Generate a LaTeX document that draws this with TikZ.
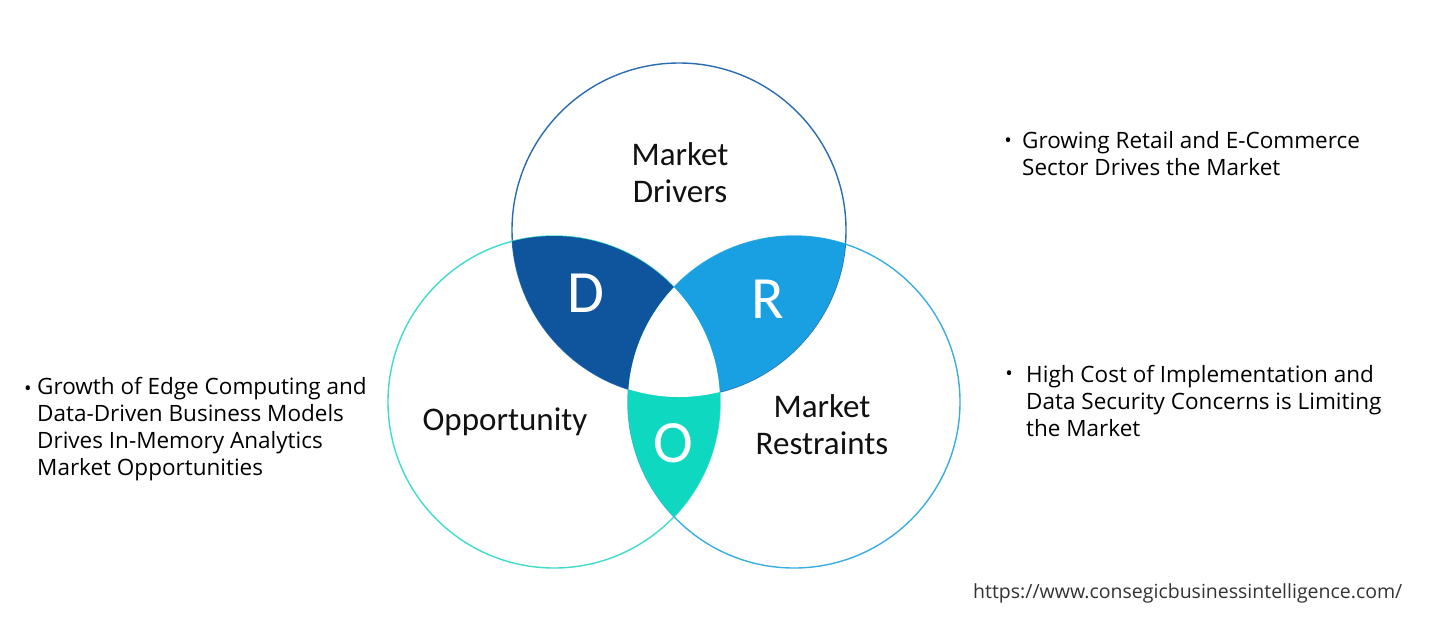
\documentclass[tikz,border=0pt]{standalone}
\usepackage{fontspec}
\setmainfont{Open Sans}
\newfontfamily\lblfont{Carlito}
\definecolor{dcol}{HTML}{0E559D}
\definecolor{rcol}{HTML}{18A0E2}
\definecolor{ocol}{HTML}{0FD8C1}
\definecolor{tstroke}{HTML}{2B6CB0}
\definecolor{lstroke}{HTML}{40DCCB}
\definecolor{rstroke}{HTML}{3AAEE2}
\definecolor{txt}{HTML}{111111}
\definecolor{urlc}{HTML}{333333}
\begin{document}
\begin{tikzpicture}[x=1pt,y=-1pt,
  ring/.style={circle, minimum size=#1, inner sep=0pt, line width=1.4pt},
  lbl/.style={font=\lblfont\fontsize{33}{37}\selectfont, text=txt, align=center, inner sep=0pt},
  big/.style={font=\lblfont\fontsize{60}{60}\selectfont, text=white, inner sep=0pt},
  body/.style={font=\fontsize{22.5}{27}\selectfont, text=black, align=left, inner sep=0pt},
  bul/.style={font=\fontsize{20}{20}\selectfont, text=black, inner sep=0pt}]
\useasboundingbox (0,0) rectangle (1453,633);
\fill[white] (0,0) rectangle (1453,633);
% circles
\node[ring=334pt, draw=tstroke] (T) at (679,230) {};
\node[ring=332pt, draw=lstroke] (L) at (554,402) {};
\node[ring=332pt, draw=rstroke] (R) at (794,402) {};
% D region: T and L
\begin{scope}
  \clip (679,230) circle[radius=167pt];
  \clip (554,402) circle[radius=166pt];
  \fill[dcol] (388,60) rectangle (846,570);
\end{scope}
% R region: T and R
\begin{scope}
  \clip (679,230) circle[radius=167pt];
  \clip (794,402) circle[radius=166pt];
  \fill[rcol] (388,60) rectangle (962,570);
\end{scope}
% O region: L and R
\begin{scope}
  \clip (554,402) circle[radius=166pt];
  \clip (794,402) circle[radius=166pt];
  \fill[ocol] (388,60) rectangle (962,570);
\end{scope}
% centre
\begin{scope}
  \clip (679,230) circle[radius=167pt];
  \clip (554,402) circle[radius=166pt];
  \clip (794,402) circle[radius=166pt];
  \fill[white] (388,60) rectangle (962,570);
\end{scope}
% letters
\node[big, anchor=base] (Dl) at (586,312) {D};
\node[big, anchor=base] (Rl) at (768,318) {R};
\node[big, anchor=base] (Ol) at (673,462) {O};
% circle labels
\node[lbl, anchor=north] (md) at (680,142) {Market\\Drivers};
\node[lbl, anchor=base] (op) at (505,430) {Opportunity};
\node[lbl, anchor=north] (mr) at (822,394) {Market\\Restraints};
% bullet texts
\node[bul] (b1) at (28,391) {•};
\node[body, anchor=north west] (t1) at (37,377) {Growth of Edge Computing and\\Data-Driven Business Models\\Drives In-Memory Analytics\\Market Opportunities};
\node[bul] (b2) at (1008,143) {•};
\node[body, anchor=north west] (t2) at (1022,131) {Growing Retail and E-Commerce\\Sector Drives the Market};
\node[bul] (b3) at (1009,376) {•};
\node[body, anchor=north west] (t3) at (1026,365) {High Cost of Implementation and\\Data Security Concerns is Limiting\\the Market};
% url
\node[font=\fontsize{19.5}{19.5}\selectfont, text=urlc, anchor=base west, inner sep=0pt] (url) at (973,598) {https://www.consegicbusinessintelligence.com/};
\end{tikzpicture}
\end{document}
